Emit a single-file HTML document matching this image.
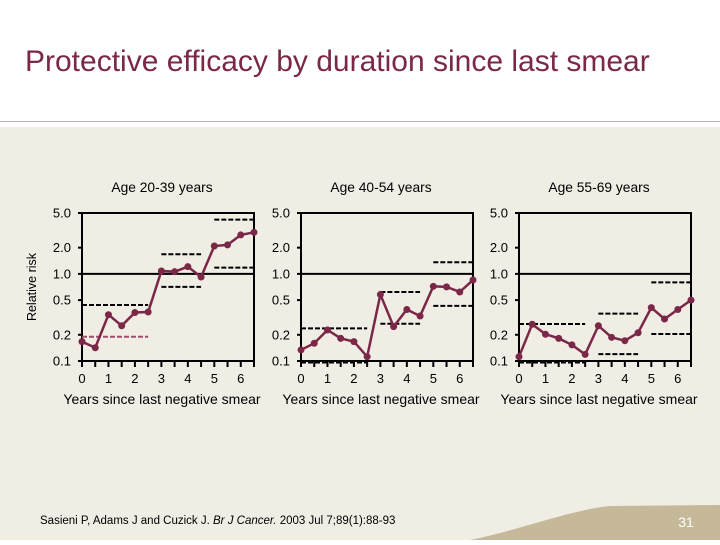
<!DOCTYPE html>
<html><head><meta charset="utf-8"><style>
body{margin:0;width:720px;height:540px;overflow:hidden;background:#fff;font-family:"Liberation Sans",Arial,sans-serif}
svg text{font-family:"Liberation Sans",Arial,sans-serif}
</style></head><body>
<svg id="s" width="720" height="540" viewBox="0 0 720 540">
<rect x="0" y="0" width="720" height="121" fill="#fff"/>
<line x1="0" y1="121.5" x2="720" y2="121.5" stroke="#b8b0b4" stroke-width="1"/>
<rect x="0" y="127" width="720" height="413" fill="#f0ede4"/>
<path d="M470,540 C520,530 570,510 610,506 L720,505 L720,540 Z" fill="#c5b99a"/>
<text x="25" y="71" font-size="30" fill="#7b2748">Protective efficacy by duration since last smear</text>
<text x="36" y="287" font-size="12.5" fill="#000" text-anchor="middle" transform="rotate(-90 36 287)">Relative risk</text>
<text x="40" y="524" font-size="11.5" fill="#000">Sasieni P, Adams J and Cuzick J. <tspan font-style="italic">Br J Cancer.</tspan> 2003 Jul 7;89(1):88-93</text>
<text x="686" y="527" font-size="14" fill="#fff" text-anchor="middle">31</text>
<g id="charts"></g>
</svg>
<script>
const xCats=[0,0.5,1,1.5,2,2.5,3,3.5,4,4.5,5,5.5,6,6.5];
const xTickLabels=["0","1","2","3","4","5","6"];
const yTickValues=[0.1,0.2,0.5,1.0,2.0,5.0];
const yTickLabels=["0.1","0.2","0.5","1.0","2.0","5.0"];
const panelTitles=["Age 20-39 years","Age 40-54 years","Age 55-69 years"];
const rr1=[0.167,0.142,0.34,0.254,0.36,0.365,1.08,1.06,1.21,0.92,2.09,2.15,2.8,3.0];
const rr2=[0.134,0.16,0.227,0.182,0.167,0.112,0.58,0.248,0.39,0.328,0.72,0.71,0.62,0.85];
const rr3=[0.112,0.264,0.203,0.182,0.153,0.119,0.254,0.187,0.171,0.211,0.41,0.303,0.39,0.5];
const ciStart=[0,3,5];
const ciEnd=[2.5,4.5,6.5];
const ciUpper1=[0.44,1.68,4.2];
const ciLower1=[0.19,0.71,1.18];
const ciUpper2=[0.237,0.62,1.36];
const ciLower2=[0.096,0.268,0.43];
const ciUpper3=[0.266,0.35,0.8];
const ciLower3=[0.096,0.12,0.204];
const series=[rr1,rr2,rr3];
const uppers=[ciUpper1,ciUpper2,ciUpper3];
const lowers=[ciLower1,ciLower2,ciLower3];

const NS="http://www.w3.org/2000/svg";
const root=document.getElementById('charts');
const lefts=[82,301,519], W=172, TOP=213, BOT=361;
function mk(tag,attrs,parent){const e=document.createElementNS(NS,tag);for(const k in attrs)e.setAttribute(k,attrs[k]);parent.appendChild(e);return e;}
const MAROON="#7b2748";
series.forEach((vals,p)=>{
  const L=lefts[p];
  const xs=v=>L+v*(W/6.5);
  const ys=v=>BOT-(Math.log10(v)+1)*((BOT-TOP)/Math.log10(50));
  const g=mk('g',{},root);
  
  
  const t=mk('text',{x:L+80,y:192,'font-size':13.8,'text-anchor':'middle'},g);
  t.textContent=panelTitles[p];
  
  
  const box=mk('rect',{x:L,y:TOP,width:W,height:BOT-TOP,fill:'none',stroke:'#000','stroke-width':2},g);
  
  
  const ref=mk('line',{x1:L,x2:L+W,y1:ys(1),y2:ys(1),stroke:'#000','stroke-width':2},g);
  
  
  yTickValues.forEach((v,i)=>{
    const tk=mk('line',{x1:L-4,x2:L,y1:ys(v),y2:ys(v),stroke:'#000','stroke-width':2},g);
    
    
    const lb=mk('text',{x:L-11,y:ys(v)+4.5,'font-size':13,'text-anchor':'end'},g);
    lb.textContent=yTickLabels[i];
    
    
  });
  xCats.forEach(v=>{
    const tk=mk('line',{x1:xs(v),x2:xs(v),y1:BOT,y2:BOT+6,stroke:'#000','stroke-width':2},g);
    
    
  });
  xTickLabels.forEach((s,i)=>{
    const lb=mk('text',{x:xs(i),y:383,'font-size':13,'text-anchor':'middle'},g);
    lb.textContent=s;
    
    
  });
  const at=mk('text',{x:L+80,y:404,'font-size':14,'text-anchor':'middle'},g);
  at.textContent='Years since last negative smear';
  
  
  ciStart.forEach((s,i)=>{
    [uppers[p][i],lowers[p][i]].forEach((v,j)=>{
      const col=(p===0&&i===0&&j===1)?'#a0506e':'#000';
      const d=mk('line',{x1:xs(s),x2:xs(ciEnd[i]),y1:ys(v),y2:ys(v),stroke:col,'stroke-width':2,'stroke-dasharray':'5,2'},g);
      
      
    });
  });
  const pts=vals.map((v,i)=>xs(xCats[i])+','+ys(v)).join(' ');
  const pl=mk('polyline',{points:pts,fill:'none',stroke:MAROON,'stroke-width':2.5},g);
  
  
  vals.forEach((v,i)=>{
    const c=mk('circle',{cx:xs(xCats[i]),cy:ys(v),r:3.5,fill:MAROON},g);
    
    
  });
});
</script>
</body></html>
